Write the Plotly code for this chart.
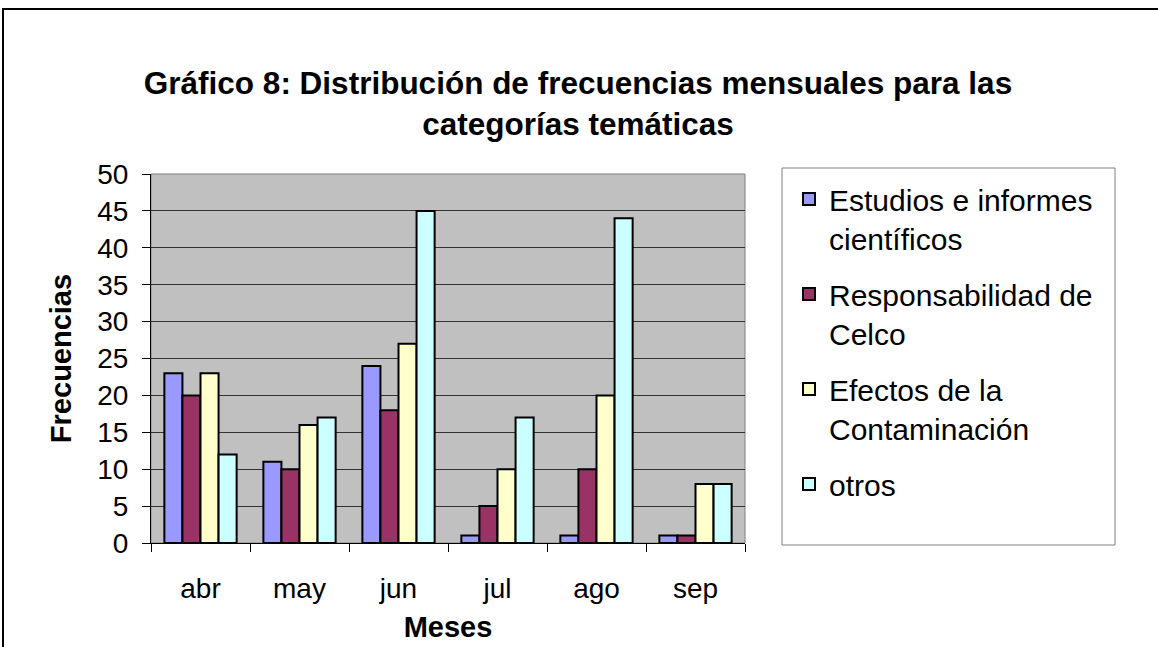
import plotly.graph_objects as go

months = ["abr", "may", "jun", "jul", "ago", "sep"]
series_names = ["Estudios e informes<br>científicos", "Responsabilidad de<br>Celco",
                "Efectos de la<br>Contaminación", "otros"]
estudios = [23, 11, 24, 1, 1, 1]
responsabilidad = [20, 10, 18, 5, 10, 1]
efectos = [23, 16, 27, 10, 20, 8]
otros = [12, 17, 45, 17, 44, 8]
colors = ["#9999FF", "#993366", "#FFFFCC", "#CCFFFF"]
y_ticks = list(range(0, 51, 5))

W, H = 1158, 647
L, R, T, B = 151, 745, 174, 543

fig = go.Figure()
for i, (name, vals, col) in enumerate(zip(series_names, [estudios, responsabilidad, efectos, otros], colors)):
    fig.add_trace(go.Bar(x=months, y=vals, name=name, legendgroup=f"g{i}",
                         marker=dict(color=col, line=dict(color="black", width=2))))

def px(x):
    return (x - L) / (R - L)

def py(y):
    return (B - y) / (B - T)

fig.update_layout(
    width=W, height=H,
    margin=dict(l=L, r=W - R, t=T, b=H - B, pad=0),
    paper_bgcolor="white", plot_bgcolor="#C0C0C0",
    barmode="group", bargap=0.27, bargroupgap=0,
    font=dict(family="Liberation Sans, Arial, sans-serif", color="black"),
    title=dict(text="<b>Gráfico 8: Distribución de frecuencias mensuales para las<br>categorías temáticas</b>",
               x=578 / W, xref="container", xanchor="center", y=1 - 94 / H, yanchor="middle",
               font=dict(size=31.5)),
    showlegend=True,
    legend=dict(x=px(789), y=py(173), xanchor="left", yanchor="top",
                xref="paper", yref="paper", maxheight=600,
                bgcolor="rgba(0,0,0,0)", borderwidth=0, valign="top",
                font=dict(size=30), tracegroupgap=14, itemsizing="constant"),
    xaxis=dict(tickson="boundaries", ticks="outside", ticklen=8, tickcolor="black",
               showline=True, linecolor="black", linewidth=1, mirror=False, automargin=False,
               tickfont=dict(size=28), showgrid=False, ticklabelstandoff=20,
               title=dict(text="<b>Meses</b>", font=dict(size=29), standoff=14)),
    yaxis=dict(range=[0, 50], tickvals=y_ticks, ticks="outside", ticklen=8, tickcolor="black",
               showline=True, linecolor="black", linewidth=1, ticklabelstandoff=8,
               gridcolor="#333333", gridwidth=1, zeroline=False, automargin=False,
               tickfont=dict(size=28),
               title=dict(text="<b>Frecuencias</b>", font=dict(size=29), standoff=17)),
    shapes=[
        dict(type="rect", xref="paper", yref="paper", x0=0, x1=1, y0=0, y1=1,
             line=dict(color="#808080", width=1), layer="below"),
        dict(type="rect", xref="paper", yref="paper",
             x0=px(782), x1=px(1115), y0=py(168), y1=py(545),
             line=dict(color="#808080", width=1), fillcolor="white", layer="below"),
        dict(type="rect", xref="paper", yref="paper",
             x0=px(3), x1=px(1170), y0=py(9), y1=py(660),
             line=dict(color="black", width=2)),
    ],
)

fig.write_html("out.html", config={"displayModeBar": False},
               post_script="document.body.style.margin='0';")
